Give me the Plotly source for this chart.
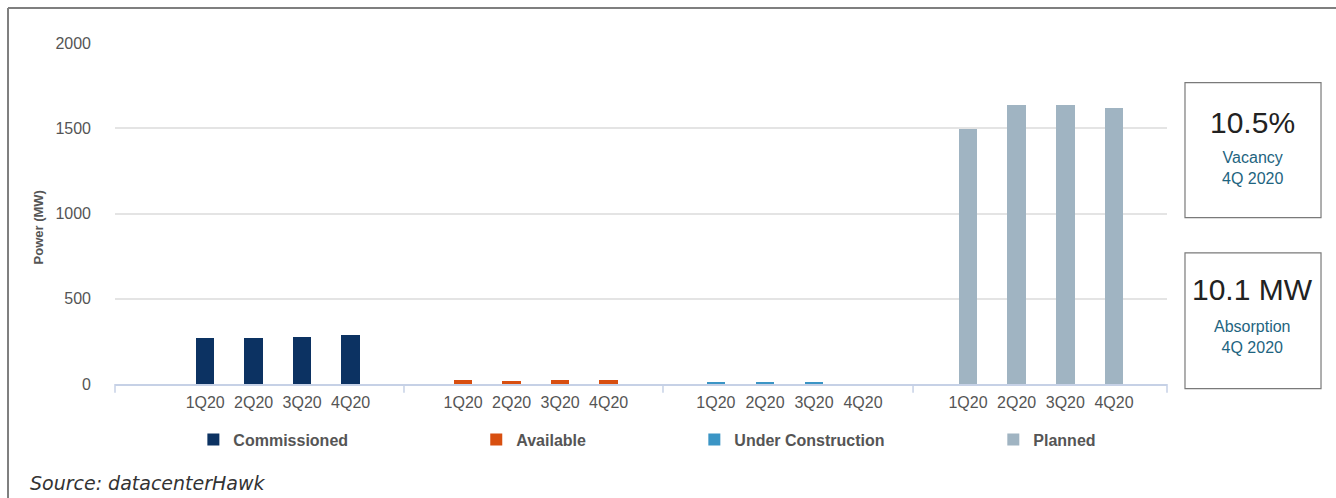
import plotly.graph_objects as go

# ---- data ----
quarters = ["1Q20", "2Q20", "3Q20", "4Q20"]
commissioned = [270, 270, 275, 285]
available = [24, 16, 24, 24]
under_construction = [10, 9, 10, 0]
planned = [1495, 1635, 1635, 1618]
series_names = ["Commissioned", "Available", "Under Construction", "Planned"]
y_tick_values = [0, 500, 1000, 1500, 2000]
kpi_values = ["10.5%", "10.1 MW"]
kpi_labels = ["Vacancy<br>4Q 2020", "Absorption<br>4Q 2020"]
source_text = "Source: datacenterHawk"

# ---- styling ----
colors = ["#0c3262", "#d84f10", "#3b95c5", "#a0b4c2"]
domains = [(0.0, 0.2747), (0.2747, 0.5209), (0.5209, 0.7586), (0.7586, 1.0)]
ranges = [(-1.86, 4.10), (-1.22, 4.12), (-1.08, 4.02), (-1.13, 4.09)]
legend_x = [0.0745, 0.3434, 0.5507, 0.8349]
axis_col = "#c6d1e6"
txt_col = "#555555"
font_fam = "Liberation Sans, Arial, sans-serif"

values = [commissioned, available, under_construction, planned]

fig = go.Figure()
for i, (name, vals) in enumerate(zip(series_names, values)):
    xa = "x" if i == 0 else f"x{i+1}"
    lg = "legend" if i == 0 else f"legend{i+1}"
    fig.add_trace(go.Bar(
        x=quarters, y=vals, name=name,
        xaxis=xa, yaxis="y", legend=lg,
        width=0.38,
        marker=dict(color=colors[i], line=dict(width=0)),
        showlegend=True,
    ))

layout = dict(
    width=1336, height=498,
    margin=dict(l=115, r=169, t=43, b=114),
    paper_bgcolor="white", plot_bgcolor="white",
    font=dict(family=font_fam, color=txt_col, size=16),
    bargap=0,
    showlegend=True,
    yaxis=dict(
        range=[0, 2000], tickvals=y_tick_values,
        showgrid=True, gridcolor="#e4e4e4", gridwidth=1.5,
        zeroline=False, showline=False, ticks="",
        ticklabelstandoff=23,
        tickfont=dict(size=16, color=txt_col, family=font_fam),
        fixedrange=True,
    ),
)
for i in range(4):
    key = "xaxis" if i == 0 else f"xaxis{i+1}"
    layout[key] = dict(
        domain=list(domains[i]), anchor="y",
        type="category", categoryorder="array", categoryarray=quarters,
        range=list(ranges[i]),
        showline=True, linecolor=axis_col, linewidth=1.5,
        showgrid=False, zeroline=False, ticks="",
        ticklabelstandoff=3,
        tickfont=dict(size=16, color=txt_col, family=font_fam),
    )
    lkey = "legend" if i == 0 else f"legend{i+1}"
    layout[lkey] = dict(
        x=legend_x[i], xanchor="left", y=-0.163, yanchor="middle",
        orientation="h", bgcolor="rgba(0,0,0,0)",
        font=dict(size=16, color=txt_col, family=font_fam, weight="bold"),
    )

fig.update_layout(**layout)

# boundary tick marks under the axis line
shapes = []
bounds = [domains[0][0]] + [d[1] for d in domains]
for b in bounds:
    shapes.append(dict(type="line", xref="paper", yref="paper",
                       x0=b, x1=b, y0=0, y1=-0.026,
                       line=dict(color=axis_col, width=1.5)))
# KPI boxes
shapes.append(dict(type="rect", xref="paper", yref="paper",
                   x0=1.0171, x1=1.1464, y0=0.4881, y1=0.8837,
                   line=dict(color="#7a7a7a", width=1.2)))
shapes.append(dict(type="rect", xref="paper", yref="paper",
                   x0=1.0171, x1=1.1464, y0=-0.0138, y1=0.3847,
                   line=dict(color="#7a7a7a", width=1.2)))
# outer frame (top and left)
shapes.append(dict(type="line", xref="paper", yref="paper",
                   x0=-0.1017, x1=1.17, y0=1.1025, y1=1.1025,
                   line=dict(color="#7f7f7f", width=2)))
shapes.append(dict(type="line", xref="paper", yref="paper",
                   x0=-0.1017, x1=-0.1017, y0=1.1025, y1=-0.35,
                   line=dict(color="#7f7f7f", width=2)))
fig.update_layout(shapes=shapes)

annotations = [
    dict(text="<b>Power (MW)</b>", textangle=-90, xref="paper", yref="paper",
         x=-0.0732, y=0.459, showarrow=False, xanchor="center", yanchor="middle",
         font=dict(size=13, color=txt_col, family=font_fam)),
    dict(text=kpi_values[0], xref="paper", yref="paper", x=1.0817, y=0.766,
         showarrow=False, xanchor="center", yanchor="middle",
         font=dict(size=30, color="#222222", family=font_fam)),
    dict(text=kpi_labels[0], xref="paper", yref="paper", x=1.0817, y=0.634,
         showarrow=False, xanchor="center", yanchor="middle",
         font=dict(size=16, color="#1e6480", family=font_fam)),
    dict(text=kpi_values[1], xref="paper", yref="paper", x=1.0817, y=0.276,
         showarrow=False, xanchor="center", yanchor="middle",
         font=dict(size=30, color="#222222", family=font_fam)),
    dict(text=kpi_labels[1], xref="paper", yref="paper", x=1.0817, y=0.138,
         showarrow=False, xanchor="center", yanchor="middle",
         font=dict(size=16, color="#1e6480", family=font_fam)),
    dict(text=f"<i>{source_text}</i>", xref="paper", yref="paper",
         x=-0.0827, y=-0.289, showarrow=False, xanchor="left", yanchor="middle",
         font=dict(size=19, color="#333333", family="DejaVu Sans")),
]
fig.update_layout(annotations=annotations)

fig.write_html("out.html")
